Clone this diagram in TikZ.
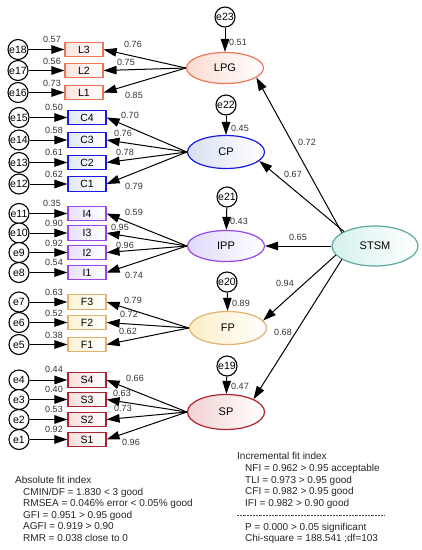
\documentclass[tikz,border=0pt]{standalone}
\usepackage{fontspec}
\setmainfont{Liberation Sans}
\usetikzlibrary{arrows.meta,shapes.geometric}

\definecolor{lpgc}{RGB}{238,118,84}
\definecolor{lpgf}{RGB}{250,220,210}
\definecolor{cpc}{RGB}{25,25,235}
\definecolor{cpf}{RGB}{216,225,240}
\definecolor{ippc}{RGB}{150,70,235}
\definecolor{ippf}{RGB}{224,216,250}
\definecolor{fpc}{RGB}{228,178,110}
\definecolor{fpf}{RGB}{252,238,198}
\definecolor{spc}{RGB}{175,35,45}
\definecolor{spf}{RGB}{242,210,210}
\definecolor{stsmc}{RGB}{95,165,160}
\definecolor{stsmf}{RGB}{214,242,237}

\tikzset{
  err/.style={draw,circle,fill=white,line width=1.1pt,minimum size=20pt,inner sep=0pt,
    font=\fontsize{10.5}{12}\selectfont},
  ind/.style 2 args={draw=#1,line width=1.2pt,left color=#2!75,right color=white,
    minimum width=38pt,minimum height=14.5pt,inner sep=0pt,font=\fontsize{10.5}{12}\selectfont},
  lat/.style 2 args={ellipse,draw=#1,line width=1.2pt,left color=#2,right color=white,
    minimum width=77pt,minimum height=31pt,inner sep=0pt,font=\fontsize{11}{12}\selectfont},
  val/.style={inner sep=0pt,text=black!80,font=\fontsize{9}{10}\selectfont},
  idx/.style={anchor=base west,inner sep=0pt,text=black!85,font=\fontsize{10}{12}\selectfont},
  arr/.style={line width=1pt,-{Triangle[length=13pt,width=8.5pt]}}
}

\begin{document}
\begin{tikzpicture}[x=1pt,y=-1pt]
         \path[fill=white] (0,0) rectangle (422,550) ;
         %\draw[very thin,gray,step=10] (0,0) grid (422,550) ;
         % LPG
         \node[err] (e23) at (225,17) {e23} ;
         \node[lat={lpgc}{lpgf}] (lpg) at (225,68) {LPG} ;
         \node[ind={lpgc}{lpgf}] (l3) at (84,49.5) {L3} ;
         \node[ind={lpgc}{lpgf}] (l2) at (84,70.5) {L2} ;
         \node[ind={lpgc}{lpgf}] (l1) at (84,92.5) {L1} ;
         \node[err] (e18) at (18,49.5) {e18} ;
         \node[err] (e17) at (18,70.5) {e17} ;
         \node[err] (e16) at (18,92.5) {e16} ;
         \draw[arr] (e23) -- (lpg) ;
         \draw[arr] (e18) -- (l3) ;
         \draw[arr] (e17) -- (l2) ;
         \draw[arr] (e16) -- (l1) ;
         \draw[arr] (lpg.west) -- (l3.east) ;
         \draw[arr] (lpg.west) -- (l2.east) ;
         \draw[arr] (lpg.west) -- (l1.east) ;
         \node[val] (v23) at (238,42) {0.51} ;
         \node[val] (v18) at (52,39) {0.57} ;
         \node[val] (v17) at (52,61) {0.56} ;
         \node[val] (v16) at (52,83) {0.73} ;
         \node[val] (vl3) at (133,44) {0.76} ;
         \node[val] (vl2) at (126,62) {0.75} ;
         \node[val] (vl1) at (134,95) {0.85} ;
         % CP
         \node[err] (e22) at (226,105) {e22} ;
         \node[lat={cpc}{cpf},minimum height=33pt] (cp) at (226,152) {CP} ;
         \node[ind={cpc}{cpf}] (c4) at (87,117.5) {C4} ;
         \node[ind={cpc}{cpf}] (c3) at (87,140) {C3} ;
         \node[ind={cpc}{cpf}] (c2) at (87,162.5) {C2} ;
         \node[ind={cpc}{cpf}] (c1) at (87,184) {C1} ;
         \node[err] (e15) at (19,117.5) {e15} ;
         \node[err] (e14) at (19,140) {e14} ;
         \node[err] (e13) at (19,162.5) {e13} ;
         \node[err] (e12) at (19,184) {e12} ;
         \draw[arr] (e22) -- (cp) ;
         \draw[arr] (e15) -- (c4) ;
         \draw[arr] (e14) -- (c3) ;
         \draw[arr] (e13) -- (c2) ;
         \draw[arr] (e12) -- (c1) ;
         \draw[arr] (cp.west) -- (c4.east) ;
         \draw[arr] (cp.west) -- (c3.east) ;
         \draw[arr] (cp.west) -- (c2.east) ;
         \draw[arr] (cp.west) -- (c1.east) ;
         \node[val] (v22) at (240,128) {0.45} ;
         \node[val] (v15) at (54,107) {0.50} ;
         \node[val] (v14) at (54,130) {0.58} ;
         \node[val] (v13) at (54,152) {0.61} ;
         \node[val] (v12) at (54,174) {0.62} ;
         \node[val] (vc4) at (130,115) {0.70} ;
         \node[val] (vc3) at (123,133) {0.76} ;
         \node[val] (vc2) at (125,152) {0.78} ;
         \node[val] (vc1) at (134,186) {0.79} ;
         % IPP
         \node[err] (e21) at (227,197) {e21} ;
         \node[lat={ippc}{ippf}] (ipp) at (226,246) {IPP} ;
         \node[ind={ippc}{ippf}] (i4) at (87,213.5) {I4} ;
         \node[ind={ippc}{ippf}] (i3) at (87,233) {I3} ;
         \node[ind={ippc}{ippf}] (i2) at (87,252.5) {I2} ;
         \node[ind={ippc}{ippf}] (i1) at (87,272.5) {I1} ;
         \node[err] (e11) at (19,213.5) {e11} ;
         \node[err] (e10) at (19,233) {e10} ;
         \node[err] (e9) at (19,252.5) {e9} ;
         \node[err] (e8) at (19,272.5) {e8} ;
         \draw[arr] (e21) -- (ipp) ;
         \draw[arr] (e11) -- (i4) ;
         \draw[arr] (e10) -- (i3) ;
         \draw[arr] (e9) -- (i2) ;
         \draw[arr] (e8) -- (i1) ;
         \draw[arr] (ipp.west) -- (i4.east) ;
         \draw[arr] (ipp.west) -- (i3.east) ;
         \draw[arr] (ipp.west) -- (i2.east) ;
         \draw[arr] (ipp.west) -- (i1.east) ;
         \node[val] (v21) at (239,221) {0.43} ;
         \node[val] (v11) at (52,203) {0.35} ;
         \node[val] (v10) at (54,223) {0.90} ;
         \node[val] (v9) at (54,243) {0.92} ;
         \node[val] (v8) at (54,262) {0.54} ;
         \node[val] (vi4) at (134,212) {0.59} ;
         \node[val] (vi3) at (120,227) {0.95} ;
         \node[val] (vi2) at (125,245) {0.96} ;
         \node[val] (vi1) at (134,275) {0.74} ;
         % FP
         \node[err] (e20) at (227,282) {e20} ;
         \node[lat={fpc}{fpf},minimum height=33pt] (fp) at (228,328) {FP} ;
         \node[ind={fpc}{fpf}] (f3) at (87,302) {F3} ;
         \node[ind={fpc}{fpf}] (f2) at (87,322.5) {F2} ;
         \node[ind={fpc}{fpf}] (f1) at (87,344.5) {F1} ;
         \node[err] (e7) at (19,302) {e7} ;
         \node[err] (e6) at (19,322.5) {e6} ;
         \node[err] (e5) at (19,344.5) {e5} ;
         \draw[arr] (e20) -- (fp) ;
         \draw[arr] (e7) -- (f3) ;
         \draw[arr] (e6) -- (f2) ;
         \draw[arr] (e5) -- (f1) ;
         \draw[arr] (fp.west) -- (f3.east) ;
         \draw[arr] (fp.west) -- (f2.east) ;
         \draw[arr] (fp.west) -- (f1.east) ;
         \node[val] (v20) at (241,303) {0.89} ;
         \node[val] (v7) at (54,292) {0.63} ;
         \node[val] (v6) at (54,313) {0.52} ;
         \node[val] (v5) at (54,335) {0.38} ;
         \node[val] (vf3) at (133,300) {0.79} ;
         \node[val] (vf2) at (129,314) {0.72} ;
         \node[val] (vf1) at (128,331) {0.62} ;
         % SP
         \node[err] (e19) at (227,366) {e19} ;
         \node[lat={spc}{spf},minimum height=35pt] (sp) at (226,412) {SP} ;
         \node[ind={spc}{spf}] (s4) at (87,380) {S4} ;
         \node[ind={spc}{spf}] (s3) at (87,399.5) {S3} ;
         \node[ind={spc}{spf}] (s2) at (87,419.5) {S2} ;
         \node[ind={spc}{spf}] (s1) at (87,439.5) {S1} ;
         \node[err] (e4) at (19,380) {e4} ;
         \node[err] (e3) at (19,399.5) {e3} ;
         \node[err] (e2) at (19,419.5) {e2} ;
         \node[err] (e1) at (19,439.5) {e1} ;
         \draw[arr] (e19) -- (sp) ;
         \draw[arr] (e4) -- (s4) ;
         \draw[arr] (e3) -- (s3) ;
         \draw[arr] (e2) -- (s2) ;
         \draw[arr] (e1) -- (s1) ;
         \draw[arr] (sp.west) -- (s4.east) ;
         \draw[arr] (sp.west) -- (s3.east) ;
         \draw[arr] (sp.west) -- (s2.east) ;
         \draw[arr] (sp.west) -- (s1.east) ;
         \node[val] (v19) at (240,386) {0.47} ;
         \node[val] (v4) at (54,369) {0.44} ;
         \node[val] (v3) at (54,389) {0.40} ;
         \node[val] (v2) at (54,409) {0.53} ;
         \node[val] (v1) at (54,429) {0.92} ;
         \node[val] (vs4) at (135,378) {0.66} ;
         \node[val] (vs3) at (122,393) {0.63} ;
         \node[val] (vs2) at (123,408) {0.73} ;
         \node[val] (vs1) at (131,442) {0.96} ;
         % STSM
         \node[lat={stsmc}{stsmf},minimum width=86pt,minimum height=40pt] (stsm) at (375,246) {STSM} ;
         \draw[arr] (stsm.158) -- (lpg.-17) ;
         \draw[arr] (stsm.155) -- (cp.-15) ;
         \draw[arr] (stsm.west) -- (ipp.east) ;
         \draw[arr] (stsm.193) -- (fp.12) ;
         \draw[arr] (stsm.202) -- (sp.25) ;
         \node[val] (vlpg) at (307,142) {0.72} ;
         \node[val] (vcp) at (293,174) {0.67} ;
         \node[val] (vipp) at (298,237) {0.65} ;
         \node[val] (vfp) at (285,283) {0.94} ;
         \node[val] (vsp) at (283,332) {0.68} ;
         % fit indices
         \node[idx] (absfit) at (15,483.5) {Absolute fit index} ;
         \node[idx] (cmin) at (23,495) {CMIN/DF = 1.830 < 3 good} ;
         \node[idx] (rmsea) at (23,506.5) {RMSEA = 0.046\% error < 0.05\% good} ;
         \node[idx] (gfi) at (23,518) {GFI = 0.951 > 0.95 good} ;
         \node[idx] (agfi) at (23,529.5) {AGFI = 0.919 > 0.90} ;
         \node[idx] (rmr) at (23,541) {RMR = 0.038 close to 0} ;
         \node[idx] (incfit) at (237,459.5) {Incremental fit index} ;
         \node[idx] (nfi) at (245,471) {NFI = 0.962 > 0.95 acceptable} ;
         \node[idx] (tli) at (245,483) {TLI = 0.973 > 0.95 good} ;
         \node[idx] (cfi) at (245,494.5) {CFI = 0.982 > 0.95 good} ;
         \node[idx] (ifi) at (245,506) {IFI = 0.982 > 0.90 good} ;
         \draw[black!70,line width=0.6pt,dash pattern=on 2.2pt off 1pt] (237,515) -- (385,515) ;
         \node[idx] (pval) at (245,530) {P = 0.000 > 0.05 significant} ;
         \node[idx] (chisq) at (245,541.5) {Chi-square = 188.541 ;df=103} ;
\end{tikzpicture}
\end{document}
